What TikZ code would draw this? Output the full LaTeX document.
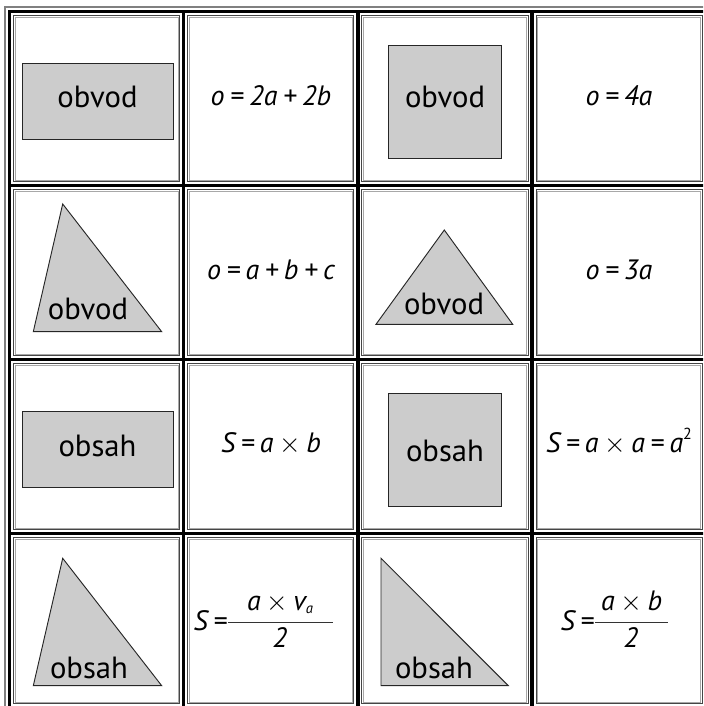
\documentclass[tikz,border=0pt]{standalone}
\usepackage{fontspec}
\setmainfont{PT Sans}
\newcommand\fsp{\hspace{0.2em}}
\newcommand\tms{\fsp$\times$\fsp}
\definecolor{shapegray}{HTML}{CCCCCC}
\definecolor{bordark}{HTML}{454545}
\definecolor{borlight}{HTML}{A8A8A8}
\definecolor{outergray}{HTML}{808080}
\begin{document}
\begin{tikzpicture}[x=0.75pt,y=-0.75pt,
  gridline/.style={line width=2.6pt, black, line cap=rect},
  cellout/.style={draw=bordark, line width=0.8pt},
  cellin/.style={draw=borlight, line width=0.7pt},
  shp/.style={draw=black!85, line width=0.7pt, fill=shapegray},
  lbl/.style={font=\fontsize{23}{26}\selectfont, inner sep=0pt, anchor=base},
  fml/.style={font=\fontsize{21}{24}\selectfont\itshape, inner sep=0pt, anchor=base},
  fbar/.style={draw=black!80, line width=0.75pt}]
\useasboundingbox (0,0) rectangle (703,706);
\clip (0,0) rectangle (703,706);
% outer thin line
\draw[outergray, line width=0.8pt] (5,720) -- (5,7) -- (720,7);
% thick grid lines
\foreach \i in {0,...,4} {
  \draw[gridline] ({9.5+174.2*\i},11.5) -- ({9.5+174.2*\i},720);
  \draw[gridline] (9.5,{11.5+174*\i}) -- (720,{11.5+174*\i});
}
% cell borders
\foreach \i in {0,...,3} {
  \foreach \j in {0,...,3} {
    \draw[cellout] ({9.5+174.2*\i+4},{11.5+174*\j+4}) rectangle ({9.5+174.2*(\i+1)-4},{11.5+174*(\j+1)-4});
    \draw[cellin] ({9.5+174.2*\i+5.5},{11.5+174*\j+5.5}) rectangle ({9.5+174.2*(\i+1)-5.5},{11.5+174*(\j+1)-5.5});
  }
}
% ---- row 1
\draw[shp] (22,63) rectangle (173,139);
\node[lbl] (t11) at (97.5,108) {obvod};
\node[fml] (f12) at (271,106) {o\fsp=\fsp2a\fsp+\fsp2b};
\draw[shp] (388.7,45) rectangle (501.7,158);
\node[lbl] (t13) at (445,108) {obvod};
\node[fml] (f14) at (619,106) {o\fsp=\fsp4a};
% ---- row 2
\draw[shp] (62.7,204) -- (33.3,331.7) -- (161.7,331.7) -- cycle;
\node[lbl] (t21) at (88,319.3) {obvod};
\node[fml] (f22) at (271,279.3) {o\fsp=\fsp a\fsp+\fsp b\fsp+\fsp c};
\draw[shp] (444.3,230) -- (376,324.3) -- (512.7,324.3) -- cycle;
\node[lbl] (t23) at (444,314.3) {obvod};
\node[fml] (f24) at (619,279.3) {o\fsp=\fsp3a};
% ---- row 3
\draw[shp] (22,411) rectangle (173,487);
\node[lbl] (t31) at (97.5,456) {obsah};
\node[fml] (f32) at (271,452) {S\fsp=\fsp a\tms b};
\draw[shp] (388.7,393.3) rectangle (501.7,506);
\node[lbl] (t33) at (445,461) {obsah};
\node[fml] (f34) at (619,452) {S\fsp=\fsp a\tms a\fsp=\fsp a\raisebox{0.9ex}{\fontsize{12}{13}\selectfont\upshape 2}};
% ---- row 4
\draw[shp] (62.7,558.3) -- (33.3,685.7) -- (161.7,685.7) -- cycle;
\node[lbl] (t41) at (89,678.3) {obsah};
\node[fml, anchor=base east] (s42) at (227,630) {S\fsp=};
\node[fml] (n42) at (280,610) {a\tms v\raisebox{-0.25ex}{\fontsize{11}{12}\selectfont a}};
\node[fml] (d42) at (280,647.7) {2};
\draw[fbar] (228,622.7) -- (333,622.7);
\draw[shp] (381,558.3) -- (381,685.7) -- (508.3,685.7) -- cycle;
\node[lbl] (t43) at (434,678.3) {obsah};
\node[fml, anchor=base east] (s44) at (594,630) {S\fsp=};
\node[fml] (n44) at (631.7,610) {a\tms b};
\node[fml] (d44) at (631,647.7) {2};
\draw[fbar] (595,622.7) -- (668.3,622.7);
\end{tikzpicture}
\end{document}
